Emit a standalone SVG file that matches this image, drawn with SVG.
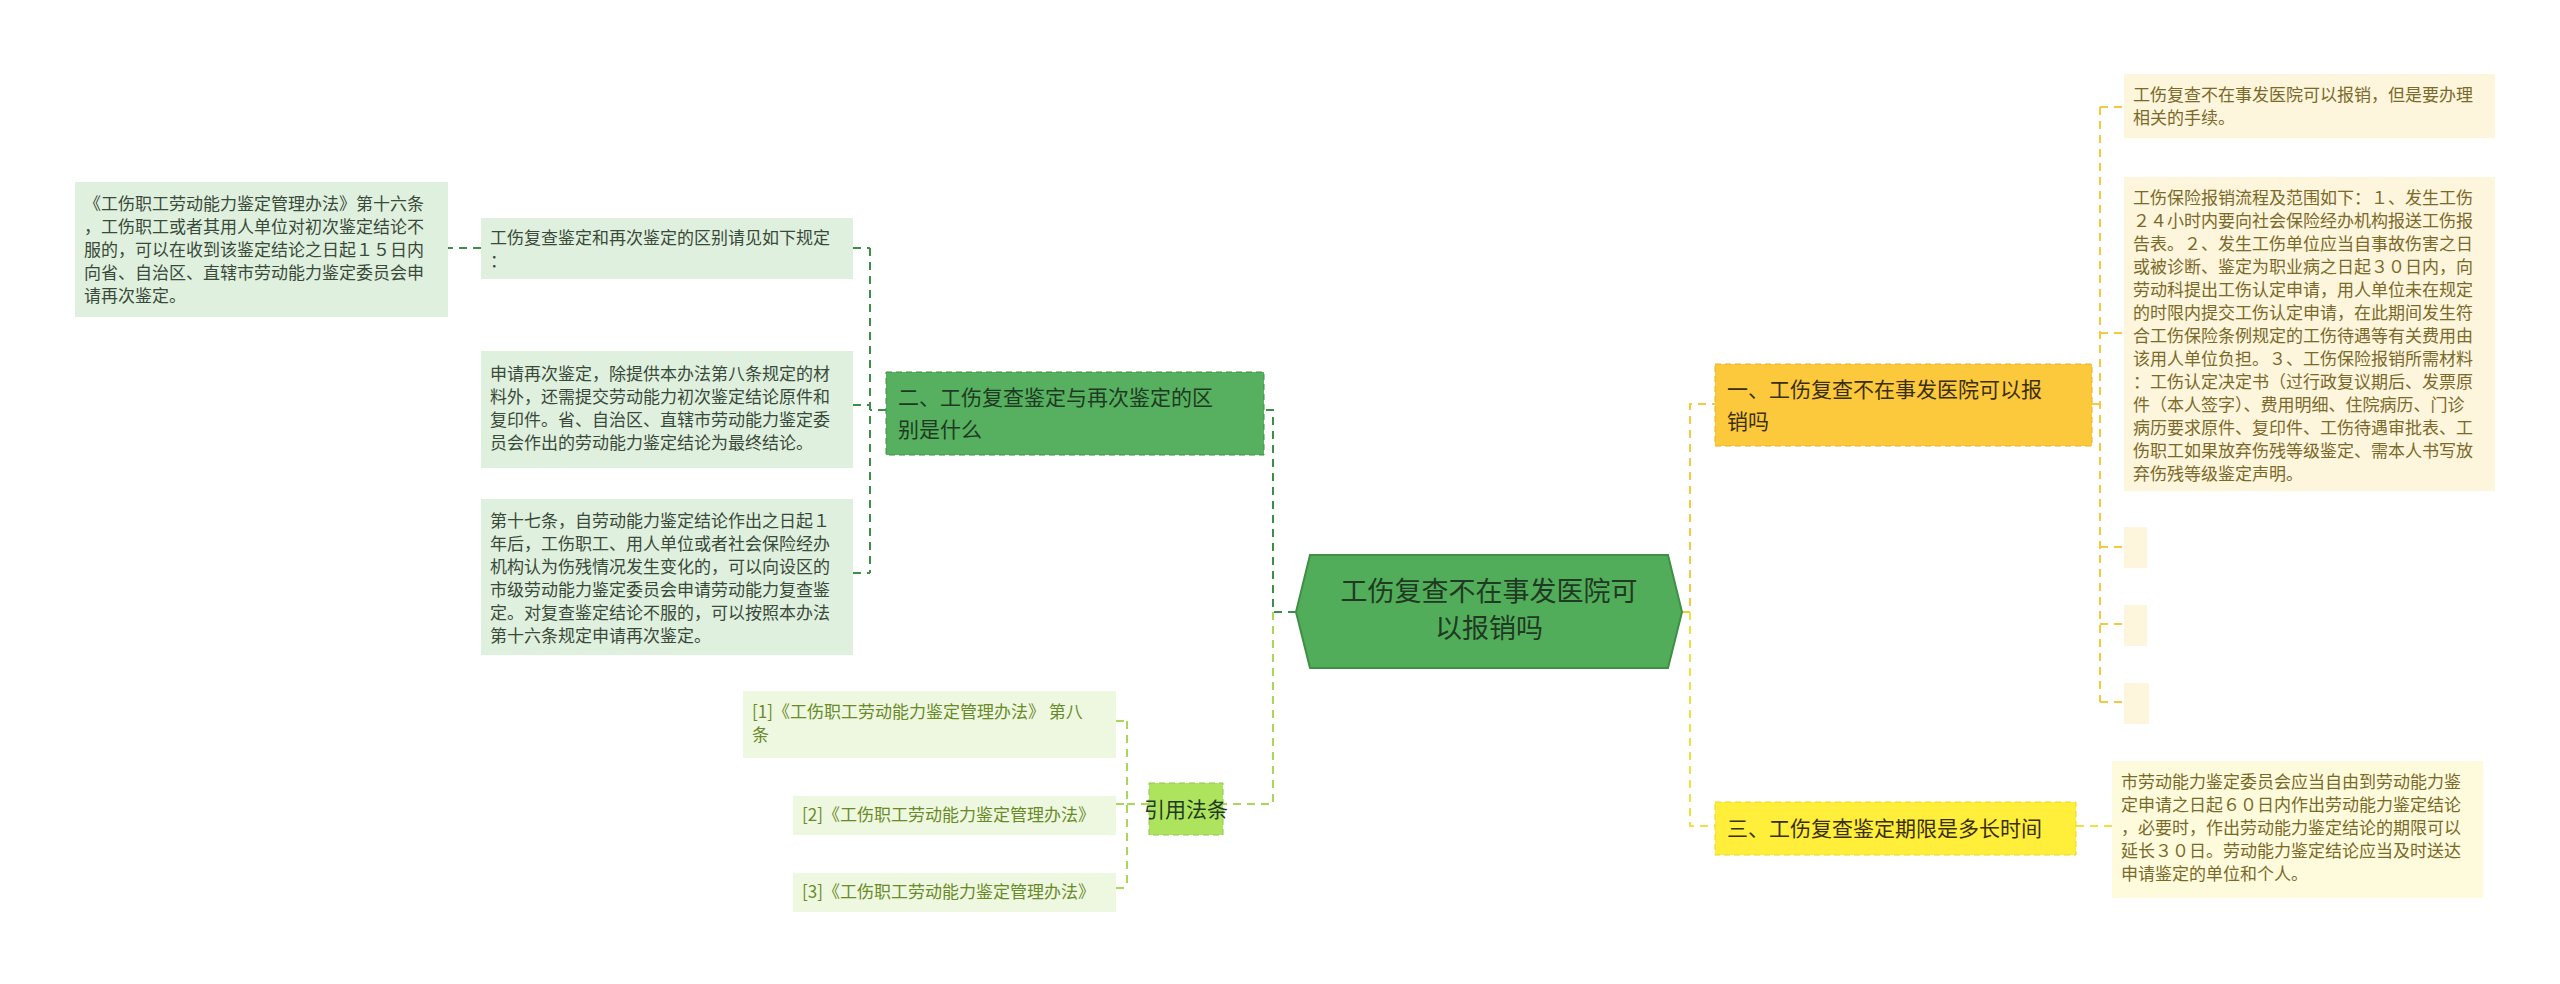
<svg xmlns="http://www.w3.org/2000/svg" width="2560" height="984" viewBox="0 0 2560 984">
<style>
text{font-family:"Noto Sans CJK SC","Liberation Sans",sans-serif}
.lf{font-size:17px;fill:#3a4a3a}
.rl{font-size:17px;fill:#7a6a2a}
.rf{font-size:17px;fill:#6a8a2a}
.c{fill:none;stroke-width:2;stroke-dasharray:8 6}
</style>
<rect width="2560" height="984" fill="#fff"/>
<g id="connectors">
<path class="c" stroke="#3d8f47" d="M1296 612H1273V410H1264M886 410H870M870 248V573M853 248H870M853 405H870M853 573H870M481 248H448"/>
<path class="c" stroke="#a8d85a" d="M1273 612V804H1223M1149 804H1127M1127 721V888M1116 721H1127M1116 804H1127M1116 888H1127"/>
<path class="c" stroke="#f5c842" d="M1682 612H1690V404H1715M2092 404H2100M2100 107V702M2100 107H2124M2100 333H2124M2100 547H2124M2100 624H2124M2100 702H2124"/>
<path class="c" stroke="#f0e040" d="M1690 612V826H1715M2076 826H2112"/>
</g>
<g id="center">
<polygon points="1296,612 1310,555 1668,555 1682,612 1668,668 1310,668" fill="#52ad5a" stroke="#3f8f47" stroke-width="2"/>
<text x="1489" y="601" text-anchor="middle" font-size="27" fill="#1f3a22">工伤复查不在事发医院可</text>
<text x="1489" y="638" text-anchor="middle" font-size="27" fill="#1f3a22">以报销吗</text>
</g>
<g id="n2">
<rect x="886" y="372" width="378" height="83" fill="#56b05f" stroke="#3d8f47" stroke-dasharray="6 4"/>
<text x="898" y="405" font-size="21" fill="#1f3a22">二、工伤复查鉴定与再次鉴定的区</text>
<text x="898" y="437" font-size="21" fill="#1f3a22">别是什么</text>
</g>
<g id="l1"><rect x="75" y="182" width="373" height="135" fill="#dff0de"/>
<text class="lf" x="84" y="210">《工伤职工劳动能力鉴定管理办法》第十六条</text>
<text class="lf" x="84" y="233">，工伤职工或者其用人单位对初次鉴定结论不</text>
<text class="lf" x="84" y="256">服的，可以在收到该鉴定结论之日起１５日内</text>
<text class="lf" x="84" y="279">向省、自治区、直辖市劳动能力鉴定委员会申</text>
<text class="lf" x="84" y="302">请再次鉴定。</text></g>
<g id="l2"><rect x="481" y="218" width="372" height="61" fill="#dff0de"/>
<text class="lf" x="490" y="244">工伤复查鉴定和再次鉴定的区别请见如下规定</text>
<text class="lf" x="490" y="267">：</text></g>
<g id="l3"><rect x="481" y="351" width="372" height="117" fill="#dff0de"/>
<text class="lf" x="490" y="380">申请再次鉴定，除提供本办法第八条规定的材</text>
<text class="lf" x="490" y="403">料外，还需提交劳动能力初次鉴定结论原件和</text>
<text class="lf" x="490" y="426">复印件。省、自治区、直辖市劳动能力鉴定委</text>
<text class="lf" x="490" y="449">员会作出的劳动能力鉴定结论为最终结论。</text></g>
<g id="l4"><rect x="481" y="499" width="372" height="156" fill="#dff0de"/>
<text class="lf" x="490" y="527">第十七条，自劳动能力鉴定结论作出之日起１</text>
<text class="lf" x="490" y="550">年后，工伤职工、用人单位或者社会保险经办</text>
<text class="lf" x="490" y="573">机构认为伤残情况发生变化的，可以向设区的</text>
<text class="lf" x="490" y="596">市级劳动能力鉴定委员会申请劳动能力复查鉴</text>
<text class="lf" x="490" y="619">定。对复查鉴定结论不服的，可以按照本办法</text>
<text class="lf" x="490" y="642">第十六条规定申请再次鉴定。</text></g>
<g id="ref"><rect x="1149" y="783" width="74" height="52" fill="#aee35e" stroke="#8cc84a" stroke-dasharray="6 4"/>
<text x="1186" y="817" text-anchor="middle" font-size="21" fill="#1f3a22">引用法条</text></g>
<g id="r1"><rect x="743" y="691" width="373" height="67" fill="#eef8e0"/>
<text class="rf" x="752" y="718">[1]《工伤职工劳动能力鉴定管理办法》 第八</text>
<text class="rf" x="752" y="741">条</text></g>
<g id="r2"><rect x="793" y="796" width="323" height="39" fill="#eef8e0"/>
<text class="rf" x="802" y="821">[2]《工伤职工劳动能力鉴定管理办法》</text></g>
<g id="r3"><rect x="793" y="873" width="323" height="39" fill="#eef8e0"/>
<text class="rf" x="802" y="898">[3]《工伤职工劳动能力鉴定管理办法》</text></g>
<g id="n1"><rect x="1715" y="364" width="377" height="82" fill="#fdc93c" stroke="#e8b020" stroke-dasharray="6 4"/>
<text x="1727" y="397" font-size="21" fill="#3a2f10">一、工伤复查不在事发医院可以报</text>
<text x="1727" y="429" font-size="21" fill="#3a2f10">销吗</text></g>
<g id="n3"><rect x="1715" y="802" width="361" height="53" fill="#ffee3a" stroke="#e8d820" stroke-dasharray="6 4"/>
<text x="1727" y="836" font-size="21" fill="#3a3010">三、工伤复查鉴定期限是多长时间</text></g>
<g id="y1"><rect x="2124" y="74" width="371" height="64" fill="#fdf5dc"/>
<text class="rl" x="2133" y="101">工伤复查不在事发医院可以报销，但是要办理</text>
<text class="rl" x="2133" y="124">相关的手续。</text></g>
<g id="y2"><rect x="2124" y="177" width="371" height="314" fill="#fdf5dc"/>
<text class="rl" x="2133" y="204">工伤保险报销流程及范围如下：１、发生工伤</text>
<text class="rl" x="2133" y="227">２４小时内要向社会保险经办机构报送工伤报</text>
<text class="rl" x="2133" y="250">告表。２、发生工伤单位应当自事故伤害之日</text>
<text class="rl" x="2133" y="273">或被诊断、鉴定为职业病之日起３０日内，向</text>
<text class="rl" x="2133" y="296">劳动科提出工伤认定申请，用人单位未在规定</text>
<text class="rl" x="2133" y="319">的时限内提交工伤认定申请，在此期间发生符</text>
<text class="rl" x="2133" y="342">合工伤保险条例规定的工伤待遇等有关费用由</text>
<text class="rl" x="2133" y="365">该用人单位负担。３、工伤保险报销所需材料</text>
<text class="rl" x="2133" y="388">：工伤认定决定书（过行政复议期后、发票原</text>
<text class="rl" x="2133" y="411">件（本人签字）、费用明细、住院病历、门诊</text>
<text class="rl" x="2133" y="434">病历要求原件、复印件、工伤待遇审批表、工</text>
<text class="rl" x="2133" y="457">伤职工如果放弃伤残等级鉴定、需本人书写放</text>
<text class="rl" x="2133" y="480">弃伤残等级鉴定声明。</text></g>
<g id="y3"><rect x="2124" y="527" width="23" height="41" fill="#fdf5dc"/></g>
<g id="y4"><rect x="2124" y="605" width="23" height="41" fill="#fdf5dc"/></g>
<g id="y5"><rect x="2124" y="683" width="25" height="41" fill="#fdf5dc"/></g>
<g id="y6"><rect x="2112" y="761" width="371" height="137" fill="#fefbdc"/>
<text class="rl" x="2121" y="788">市劳动能力鉴定委员会应当自由到劳动能力鉴</text>
<text class="rl" x="2121" y="811">定申请之日起６０日内作出劳动能力鉴定结论</text>
<text class="rl" x="2121" y="834">，必要时，作出劳动能力鉴定结论的期限可以</text>
<text class="rl" x="2121" y="857">延长３０日。劳动能力鉴定结论应当及时送达</text>
<text class="rl" x="2121" y="880">申请鉴定的单位和个人。</text></g>
</svg>
